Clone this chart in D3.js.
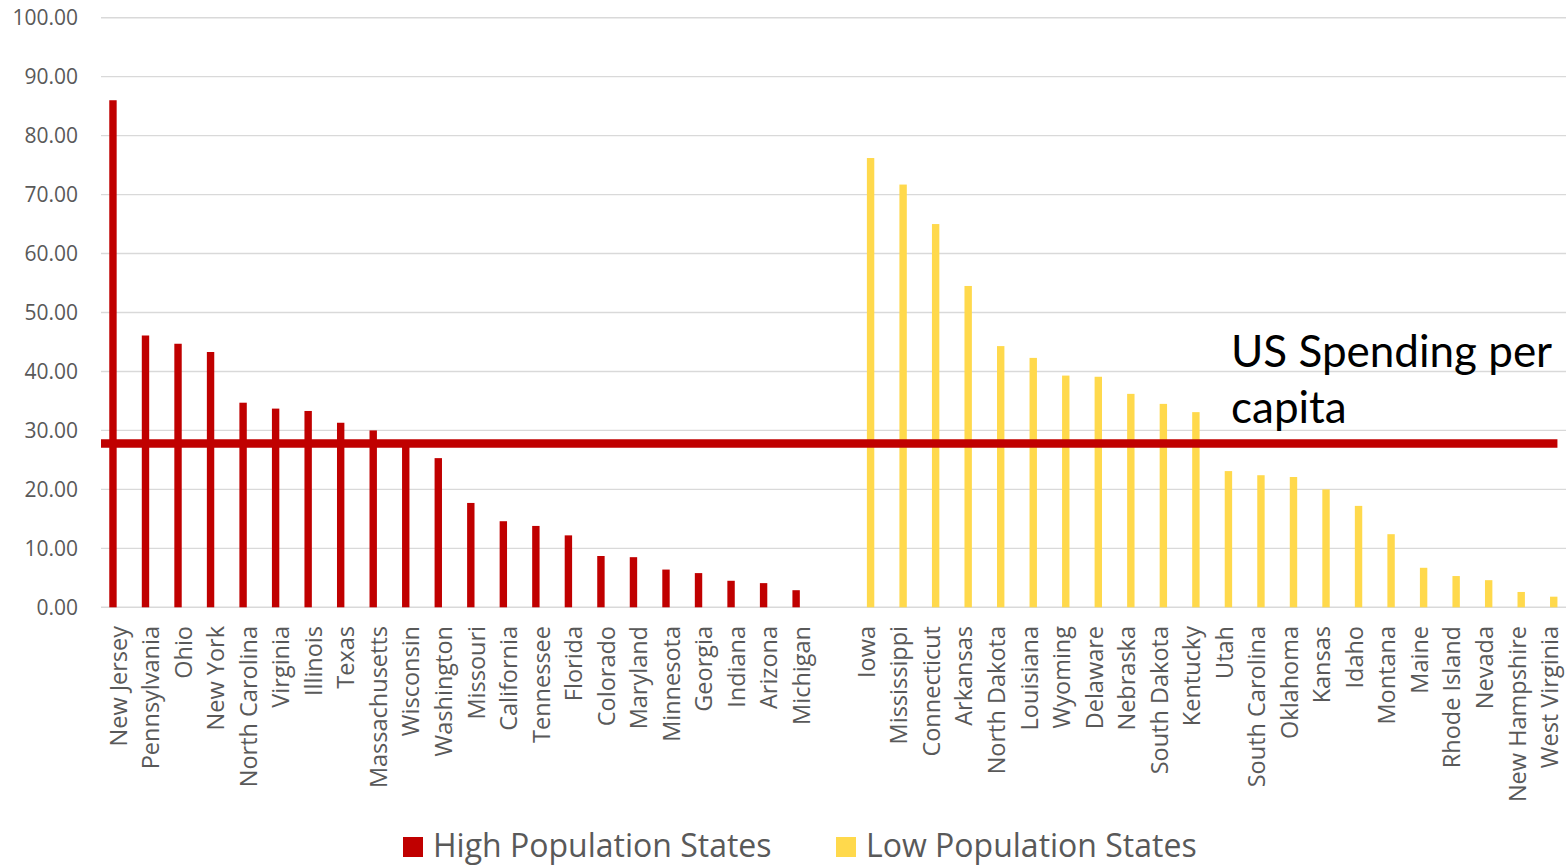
<!DOCTYPE html>
<html>
<head>
<meta charset="utf-8">
<script src="https://cdn.jsdelivr.net/npm/d3@7"></script>
<style>
  html, body { margin: 0; padding: 0; background: #fff; }
  svg { display: block; }
</style>
</head>
<body>
<svg id="chart" width="1566" height="865"></svg>
<script>
// Per-capita spending, grouped by state population
const highStates = ["New Jersey", "Pennsylvania", "Ohio", "New York", "North Carolina", "Virginia",
  "Illinois", "Texas", "Massachusetts", "Wisconsin", "Washington", "Missouri", "California",
  "Tennessee", "Florida", "Colorado", "Maryland", "Minnesota", "Georgia", "Indiana", "Arizona", "Michigan"];
const highValues = [86.0, 46.1, 44.7, 43.3, 34.7, 33.7, 33.3, 31.3, 30.0, 27.5, 25.3, 17.7, 14.6,
  13.8, 12.2, 8.7, 8.5, 6.4, 5.8, 4.5, 4.1, 2.9];

const lowStates = ["Iowa", "Mississippi", "Connecticut", "Arkansas", "North Dakota", "Louisiana",
  "Wyoming", "Delaware", "Nebraska", "South Dakota", "Kentucky", "Utah", "South Carolina",
  "Oklahoma", "Kansas", "Idaho", "Montana", "Maine", "Rhode Island", "Nevada", "New Hampshire", "West Virginia"];
const lowValues = [76.2, 71.7, 65.0, 54.5, 44.3, 42.3, 39.3, 39.1, 36.2, 34.5, 33.1, 23.1, 22.4,
  22.1, 20.0, 17.2, 12.4, 6.7, 5.3, 4.6, 2.6, 1.8];

const usSpendingPerCapita = 27.8;
const yTicks = [0, 10, 20, 30, 40, 50, 60, 70, 80, 90, 100];
const seriesNames = ["High Population States", "Low Population States"];
const seriesColors = ["#C00000", "#FFD94C"];

const svg = d3.select("#chart");
const textColor = "#595959";
const labelFont = "'Open Sans', 'Noto Sans', sans-serif";

// Categories: the two groups separated by one empty slot
const gapKey = "__gap__";
const domain = [...highStates, gapKey, ...lowStates];

const x = d3.scaleBand().domain(domain).range([101.4, 1565.3]).padding(0);
const y = d3.scaleLinear().domain([0, 100]).range([607.3, 17.7]);
const center = d => x(d) + x.bandwidth() / 2;
const barW = 7.4;

// Gridlines
svg.append("g")
  .selectAll("line")
  .data(yTicks)
  .join("line")
  .attr("x1", 101).attr("x2", 1566)
  .attr("y1", d => y(d)).attr("y2", d => y(d))
  .attr("stroke", "#D9D9D9")
  .attr("stroke-width", 1.4);

// Y-axis tick labels
svg.append("g")
  .selectAll("text")
  .data(yTicks)
  .join("text")
  .attr("x", 78)
  .attr("y", d => y(d))
  .attr("dy", "0.36em")
  .attr("text-anchor", "end")
  .attr("font-family", labelFont)
  .attr("font-size", 21)
  .attr("fill", textColor)
  .text(d3.format(".2f"));

// High population bars (left of category centre)
svg.append("g")
  .selectAll("rect")
  .data(highStates.map((s, i) => ({ s, v: highValues[i] })))
  .join("rect")
  .attr("x", d => center(d.s) - 1 - barW)
  .attr("width", barW)
  .attr("y", d => y(d.v))
  .attr("height", d => y(0) - y(d.v))
  .attr("fill", seriesColors[0]);

// Low population bars (right of category centre)
svg.append("g")
  .selectAll("rect")
  .data(lowStates.map((s, i) => ({ s, v: lowValues[i] })))
  .join("rect")
  .attr("x", d => center(d.s) + 1)
  .attr("width", barW)
  .attr("y", d => y(d.v))
  .attr("height", d => y(0) - y(d.v))
  .attr("fill", seriesColors[1]);

// National reference line
const lastState = lowStates[lowStates.length - 1];
svg.append("line")
  .attr("x1", 101)
  .attr("x2", center(lastState) + 1 + barW)
  .attr("y1", y(usSpendingPerCapita))
  .attr("y2", y(usSpendingPerCapita))
  .attr("stroke", "#C00000")
  .attr("stroke-width", 8.5);

// Reference line annotation
const note = svg.append("text")
  .attr("x", 1231)
  .attr("y", 367)
  .attr("font-family", "Lato, 'Liberation Sans', sans-serif")
  .attr("font-size", 44)
  .attr("fill", "#000");
note.append("tspan").attr("x", 1231).text("US Spending per");
note.append("tspan").attr("x", 1231).attr("dy", 56).text("capita");

// Category labels, rotated
svg.append("g")
  .selectAll("text")
  .data(domain.filter(d => d !== gapKey))
  .join("text")
  .attr("transform", d => `translate(${center(d) + 9},626) rotate(-90)`)
  .attr("text-anchor", "end")
  .attr("font-family", labelFont)
  .attr("font-size", 23.5)
  .attr("fill", textColor)
  .text(d => d);

// Legend
const legendItems = [
  { name: seriesNames[0], color: seriesColors[0], x: 403 },
  { name: seriesNames[1], color: seriesColors[1], x: 836 }
];
const lg = svg.append("g")
  .selectAll("g")
  .data(legendItems)
  .join("g")
  .attr("transform", d => `translate(${d.x},0)`);
lg.append("rect")
  .attr("x", 0).attr("y", 837)
  .attr("width", 20).attr("height", 20)
  .attr("fill", d => d.color);
lg.append("text")
  .attr("x", 30)
  .attr("y", 857)
  .attr("font-family", labelFont)
  .attr("font-size", 32)
  .attr("fill", textColor)
  .text(d => d.name);
</script>
</body>
</html>
